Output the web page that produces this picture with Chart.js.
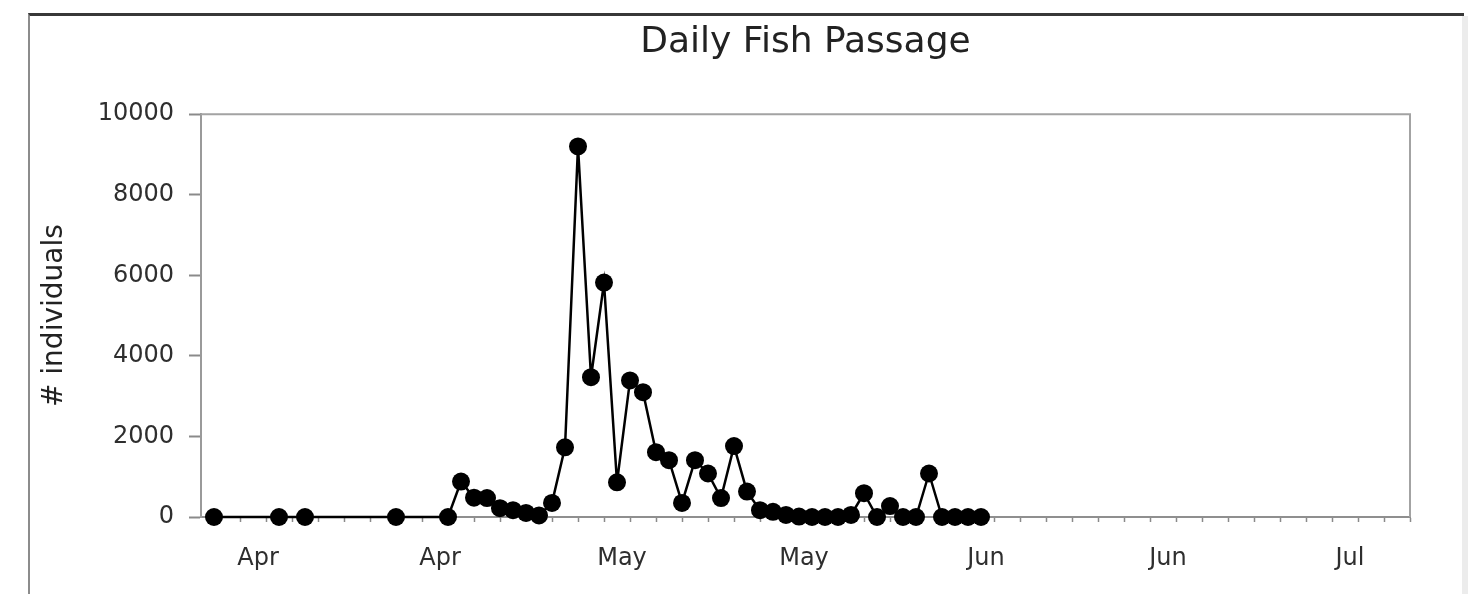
<!DOCTYPE html>
<html>
<head>
<meta charset="utf-8">
<title>Daily Fish Passage</title>
<script src="https://cdn.jsdelivr.net/npm/chart.js@4"></script>
<style>
  html, body { margin: 0; padding: 0; background: #fff; }
  #wrap { position: relative; width: 1476px; height: 594px; overflow: hidden; }
  #frame { position: absolute; left: 28px; top: 13px; width: 1436px; height: 600px;
           border-top: 3px solid #383838; border-left: 2px solid #8c8c8c; box-sizing: border-box; }
  #edge { position: absolute; left: 1462px; top: 16px; width: 6px; height: 600px; background: #ececec; }
  canvas { position: absolute; left: 0; top: 0; }
</style>
</head>
<body>
<div id="wrap">
  <div id="frame"></div>
  <div id="edge"></div>
  <canvas id="chart" width="1476" height="594"></canvas>
</div>
<script>
// Daily counts at the fish passage
const passDates = [
  '2011-04-06', '2011-04-11', '2011-04-13', '2011-04-20', '2011-04-24',
  '2011-04-25', '2011-04-26', '2011-04-27', '2011-04-28', '2011-04-29',
  '2011-04-30', '2011-05-01', '2011-05-02', '2011-05-03', '2011-05-04',
  '2011-05-05', '2011-05-06', '2011-05-07', '2011-05-08', '2011-05-09',
  '2011-05-10', '2011-05-11', '2011-05-12', '2011-05-13', '2011-05-14',
  '2011-05-15', '2011-05-16', '2011-05-17', '2011-05-18', '2011-05-19',
  '2011-05-20', '2011-05-21', '2011-05-22', '2011-05-23', '2011-05-24',
  '2011-05-25', '2011-05-26', '2011-05-27', '2011-05-28', '2011-05-29',
  '2011-05-30', '2011-05-31', '2011-06-01', '2011-06-02', '2011-06-03',
  '2011-06-04'
];
const fishCounts = [
  0, 0, 0, 0, 0,
  880, 480, 470, 220, 170,
  100, 40, 350, 1730, 9200,
  3470, 5820, 860, 3390, 3100,
  1610, 1410, 350, 1410, 1080,
  470, 1760, 630, 170, 130,
  50, 10, 0, 0, 0,
  50, 590, 0, 270, 0,
  0, 1080, 0, 0, 0,
  0
];

// Axis extent and labelled (major) tick dates
const axisStart = '2011-04-05';
const axisEnd = '2011-07-07';
const majorTickDates = ['2011-04-10', '2011-04-24', '2011-05-08', '2011-05-22', '2011-06-05', '2011-06-19', '2011-07-03'];
const minorTickStepDays = 2;
const monthNames = ['Jan', 'Feb', 'Mar', 'Apr', 'May', 'Jun', 'Jul', 'Aug', 'Sep', 'Oct', 'Nov', 'Dec'];

// Count axis
const yMin = 0;
const yMax = 10000;
const yStep = 2000;

const DAY_MS = 86400000;
const toDay = s => Date.parse(s + 'T00:00:00Z') / DAY_MS;
const xMin = toDay(axisStart);
const xMax = toDay(axisEnd);
const majorDays = majorTickDates.map(toDay);

// Minor ticks every two days, aligned on the major ticks
const tickDays = [];
for (let d = majorDays[0]; d >= xMin; d -= minorTickStepDays) tickDays.unshift(d);
for (let d = majorDays[0] + minorTickStepDays; d <= xMax; d += minorTickStepDays) tickDays.push(d);

const FONT = 'DejaVu Sans';

// Closes the plot box along the top and right edges
const plotFrame = {
  id: 'plotFrame',
  beforeDatasetsDraw(chart) {
    const { ctx, chartArea: a } = chart;
    ctx.save();
    ctx.strokeStyle = '#a3a3a3';
    ctx.lineWidth = 2;
    ctx.beginPath();
    ctx.moveTo(a.left, a.top);
    ctx.lineTo(a.right, a.top);
    ctx.lineTo(a.right, a.bottom);
    ctx.stroke();
    ctx.restore();
  }
};

new Chart(document.getElementById('chart'), {
  type: 'line',
  data: {
    datasets: [{
      data: passDates.map((d, i) => ({ x: toDay(d), y: fishCounts[i] })),
      borderColor: '#000',
      borderWidth: 2.5,
      backgroundColor: '#000',
      pointRadius: 9,
      pointBackgroundColor: '#000',
      pointBorderColor: '#000',
      pointBorderWidth: 0,
      tension: 0,
      clip: false
    }]
  },
  options: {
    responsive: false,
    animation: false,
    devicePixelRatio: 1,
    layout: { padding: { left: 0, right: 66, top: 0, bottom: 0 } },
    plugins: {
      legend: { display: false },
      tooltip: { enabled: false },
      title: {
        display: true,
        text: 'Daily Fish Passage',
        fullSize: false,
        color: '#222',
        font: { family: FONT, size: 36, weight: 'normal' },
        padding: { top: 21, bottom: 50 }
      }
    },
    scales: {
      x: {
        type: 'linear',
        min: xMin,
        max: xMax,
        afterBuildTicks(scale) { scale.ticks = tickDays.map(v => ({ value: v })); },
        afterFit(scale) { scale.height = 77; },
        grid: { display: true, drawOnChartArea: false, drawTicks: true, tickLength: 5, tickColor: '#8a8a8a', tickWidth: 1.5 },
        border: { display: true, color: '#8f8f8f', width: 2 },
        ticks: {
          autoSkip: false,
          maxRotation: 0,
          minRotation: 0,
          padding: 22,
          labelOffset: -8,
          color: '#2e2e2e',
          font: { family: FONT, size: 24 },
          callback: v => majorDays.includes(v) ? monthNames[new Date(v * DAY_MS).getUTCMonth()] : ''
        }
      },
      y: {
        min: yMin,
        max: yMax,
        afterFit(scale) { scale.width = 201; },
        grid: { display: true, drawOnChartArea: false, drawTicks: true, tickLength: 12, tickColor: '#8a8a8a', tickWidth: 2 },
        border: { display: true, color: '#9a9a9a', width: 2 },
        ticks: {
          stepSize: yStep,
          padding: 15,
          color: '#2e2e2e',
          font: { family: FONT, size: 24 },
          callback: v => String(v)
        },
        title: {
          display: true,
          text: '# individuals',
          color: '#222',
          font: { family: FONT, size: 28 },
          padding: { top: 38, bottom: 0 }
        }
      }
    }
  },
  plugins: [plotFrame]
});
</script>
</body>
</html>
